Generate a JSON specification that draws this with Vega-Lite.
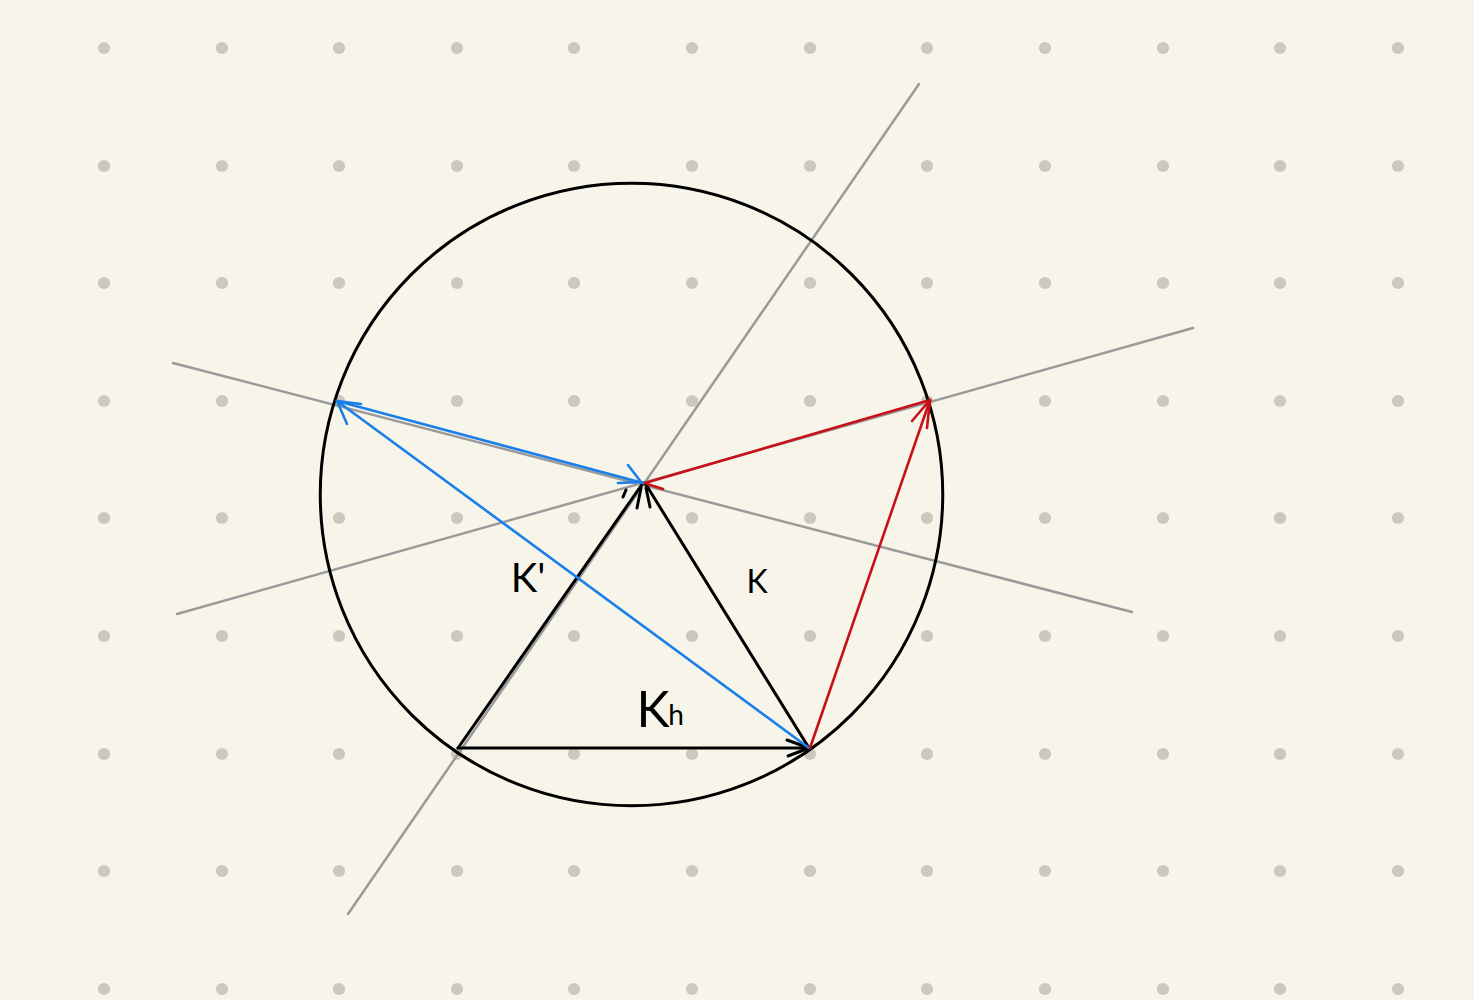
{
  "$schema": "https://vega.github.io/schema/vega-lite/v6.json",
  "width": 1474,
  "height": 1000,
  "autosize": {"type": "fit", "contains": "padding"},
  "padding": 0,
  "background": "#f7f5ea",
  "config": {"view": {"stroke": null}},
  "datasets": {
    "dots": [
      {"x":104,"y":48},{"x":222,"y":48},{"x":339,"y":48},{"x":457,"y":48},{"x":574,"y":48},{"x":692,"y":48},{"x":810,"y":48},{"x":927,"y":48},{"x":1045,"y":48},{"x":1163,"y":48},{"x":1280,"y":48},{"x":1398,"y":48},
      {"x":104,"y":166},{"x":222,"y":166},{"x":339,"y":166},{"x":457,"y":166},{"x":574,"y":166},{"x":692,"y":166},{"x":810,"y":166},{"x":927,"y":166},{"x":1045,"y":166},{"x":1163,"y":166},{"x":1280,"y":166},{"x":1398,"y":166},
      {"x":104,"y":283},{"x":222,"y":283},{"x":339,"y":283},{"x":457,"y":283},{"x":574,"y":283},{"x":692,"y":283},{"x":810,"y":283},{"x":927,"y":283},{"x":1045,"y":283},{"x":1163,"y":283},{"x":1280,"y":283},{"x":1398,"y":283},
      {"x":104,"y":401},{"x":222,"y":401},{"x":339,"y":401},{"x":457,"y":401},{"x":574,"y":401},{"x":692,"y":401},{"x":810,"y":401},{"x":927,"y":401},{"x":1045,"y":401},{"x":1163,"y":401},{"x":1280,"y":401},{"x":1398,"y":401},
      {"x":104,"y":518},{"x":222,"y":518},{"x":339,"y":518},{"x":457,"y":518},{"x":574,"y":518},{"x":692,"y":518},{"x":810,"y":518},{"x":927,"y":518},{"x":1045,"y":518},{"x":1163,"y":518},{"x":1280,"y":518},{"x":1398,"y":518},
      {"x":104,"y":636},{"x":222,"y":636},{"x":339,"y":636},{"x":457,"y":636},{"x":574,"y":636},{"x":692,"y":636},{"x":810,"y":636},{"x":927,"y":636},{"x":1045,"y":636},{"x":1163,"y":636},{"x":1280,"y":636},{"x":1398,"y":636},
      {"x":104,"y":754},{"x":222,"y":754},{"x":339,"y":754},{"x":457,"y":754},{"x":574,"y":754},{"x":692,"y":754},{"x":810,"y":754},{"x":927,"y":754},{"x":1045,"y":754},{"x":1163,"y":754},{"x":1280,"y":754},{"x":1398,"y":754},
      {"x":104,"y":871},{"x":222,"y":871},{"x":339,"y":871},{"x":457,"y":871},{"x":574,"y":871},{"x":692,"y":871},{"x":810,"y":871},{"x":927,"y":871},{"x":1045,"y":871},{"x":1163,"y":871},{"x":1280,"y":871},{"x":1398,"y":871},
      {"x":104,"y":989},{"x":222,"y":989},{"x":339,"y":989},{"x":457,"y":989},{"x":574,"y":989},{"x":692,"y":989},{"x":810,"y":989},{"x":927,"y":989},{"x":1045,"y":989},{"x":1163,"y":989},{"x":1280,"y":989},{"x":1398,"y":989}
    ],
    "guides": [
      {"x":919,"y":84,"x2":348,"y2":914},
      {"x":173,"y":363,"x2":1132,"y2":612},
      {"x":177,"y":614,"x2":1193,"y2":328}
    ],
    "sphere": [{"cx":631.5,"cy":494.5}],
    "segments": [
      {"kind":"triangle","x":458,"y":748,"x2":809,"y2":748},
      {"kind":"triangle","x":809,"y":748,"x2":787,"y2":740},
      {"kind":"triangle","x":809,"y":748,"x2":788,"y2":756},
      {"kind":"triangle","x":458,"y":748,"x2":643,"y2":483},
      {"kind":"triangle","x":809,"y":748,"x2":645,"y2":483},
      {"kind":"triangle","x":641,"y":488,"x2":637,"y2":508},
      {"kind":"triangle","x":646,"y":488,"x2":650,"y2":507},
      {"kind":"triangle","x":626,"y":490,"x2":623,"y2":497},
      {"kind":"pathA","x":643,"y":483,"x2":337,"y2":401},
      {"kind":"pathA","x":641,"y":482,"x2":628,"y2":465},
      {"kind":"pathA","x":641,"y":482,"x2":618,"y2":483},
      {"kind":"pathA","x":809,"y":748,"x2":337,"y2":401},
      {"kind":"pathA","x":337,"y":401,"x2":347,"y2":424},
      {"kind":"pathA","x":337,"y":401,"x2":361,"y2":404},
      {"kind":"pathB","x":645,"y":483,"x2":930,"y2":400},
      {"kind":"pathB","x":647,"y":484,"x2":663,"y2":489},
      {"kind":"pathB","x":810,"y":748,"x2":930,"y2":400},
      {"kind":"pathB","x":930,"y":400,"x2":912,"y2":421},
      {"kind":"pathB","x":930,"y":400,"x2":927,"y2":428}
    ]
  },
  "layer": [
    {
      "data": {"name": "dots"},
      "mark": {"type": "point", "shape": "circle", "filled": true, "opacity": 1, "size": 150, "color": "#cbc9bd"},
      "encoding": {
        "x": {"field": "x", "type": "quantitative", "scale": {"domain": [0, 1474], "nice": false, "zero": false}, "axis": null},
        "y": {"field": "y", "type": "quantitative", "scale": {"domain": [0, 1000], "nice": false, "zero": false, "reverse": true}, "axis": null}
      }
    },
    {
      "data": {"name": "guides"},
      "mark": {"type": "rule", "color": "#9a9a9a", "strokeWidth": 2.5, "strokeCap": "round"},
      "encoding": {
        "x": {"field": "x", "type": "quantitative", "axis": null},
        "y": {"field": "y", "type": "quantitative", "axis": null},
        "x2": {"field": "x2"},
        "y2": {"field": "y2"}
      }
    },
    {
      "data": {"name": "sphere"},
      "mark": {"type": "point", "shape": "circle", "filled": false, "opacity": 1, "size": 387500, "color": "#000000", "strokeWidth": 3},
      "encoding": {
        "x": {"field": "cx", "type": "quantitative", "axis": null},
        "y": {"field": "cy", "type": "quantitative", "axis": null}
      }
    },
    {
      "data": {"name": "segments"},
      "transform": [{"filter": "datum.kind === 'triangle'"}],
      "mark": {"type": "rule", "strokeWidth": 3, "strokeCap": "round", "color": "#000000"},
      "encoding": {
        "x": {"field": "x", "type": "quantitative", "axis": null},
        "y": {"field": "y", "type": "quantitative", "axis": null},
        "x2": {"field": "x2"},
        "y2": {"field": "y2"}
      }
    },
    {
      "data": {"name": "segments"},
      "transform": [{"filter": "datum.kind !== 'triangle'"}],
      "mark": {"type": "rule", "strokeWidth": 2.6, "strokeCap": "round"},
      "encoding": {
        "x": {"field": "x", "type": "quantitative", "axis": null},
        "y": {"field": "y", "type": "quantitative", "axis": null},
        "x2": {"field": "x2"},
        "y2": {"field": "y2"},
        "color": {"field": "kind", "type": "nominal", "scale": {"domain": ["pathA", "pathB"], "range": ["#1a7fe8", "#c8101a"]}, "legend": null}
      }
    },
    {
      "data": {"values": [{"label": "K'", "x": 528, "y": 592}]},
      "mark": {"type": "text", "font": "Lato", "fontWeight": "normal", "fontSize": 40, "align": "center", "baseline": "alphabetic", "color": "#000000"},
      "encoding": {
        "x": {"field": "x", "type": "quantitative", "axis": null},
        "y": {"field": "y", "type": "quantitative", "axis": null},
        "text": {"field": "label"}
      }
    },
    {
      "data": {"values": [{"label": "K", "x": 757, "y": 593}]},
      "mark": {"type": "text", "font": "Lato", "fontWeight": "normal", "fontSize": 32, "align": "center", "baseline": "alphabetic", "color": "#000000"},
      "encoding": {
        "x": {"field": "x", "type": "quantitative", "axis": null},
        "y": {"field": "y", "type": "quantitative", "axis": null},
        "text": {"field": "label"}
      }
    },
    {
      "data": {"values": [{"label": "K", "x": 653, "y": 727}]},
      "mark": {"type": "text", "font": "Lato", "fontWeight": "normal", "fontSize": 50, "align": "center", "baseline": "alphabetic", "color": "#000000"},
      "encoding": {
        "x": {"field": "x", "type": "quantitative", "axis": null},
        "y": {"field": "y", "type": "quantitative", "axis": null},
        "text": {"field": "label"}
      }
    },
    {
      "data": {"values": [{"label": "h", "x": 676, "y": 725}]},
      "mark": {"type": "text", "font": "Lato", "fontWeight": "normal", "fontSize": 28, "align": "center", "baseline": "alphabetic", "color": "#000000"},
      "encoding": {
        "x": {"field": "x", "type": "quantitative", "axis": null},
        "y": {"field": "y", "type": "quantitative", "axis": null},
        "text": {"field": "label"}
      }
    }
  ]
}
